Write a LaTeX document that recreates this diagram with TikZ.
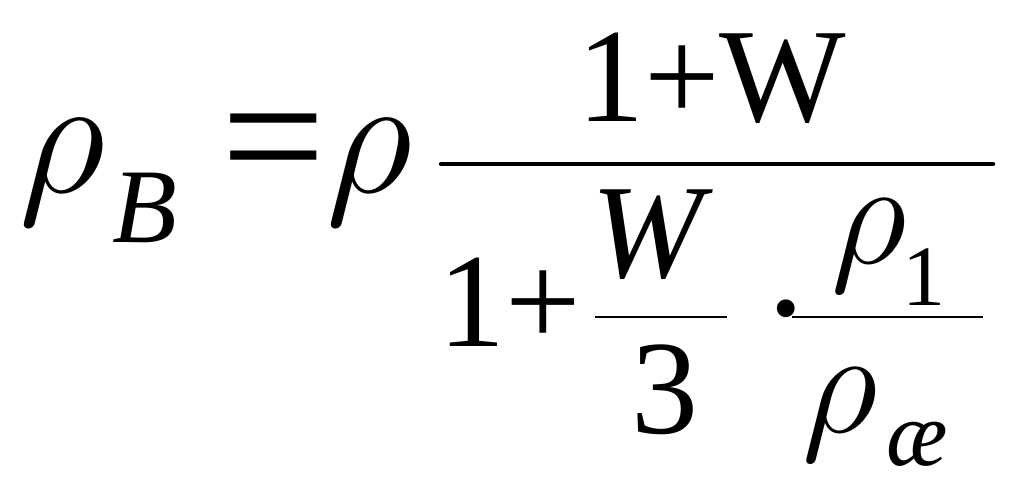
\RequirePackage{fix-cm}
\documentclass[tikz,border=0pt]{standalone}
\usepackage{fontspec}
\setmainfont{Liberation Serif}
\begin{document}
\begin{tikzpicture}[x=1pt,y=-1pt,
  glyph/.style={anchor=base west,inner sep=0pt,outer sep=0pt},
  big/.style={glyph,font=\fontsize{170}{170}\selectfont},
  mid/.style={glyph,font=\fontsize{134}{134}\selectfont},
  midit/.style={glyph,font=\fontsize{134}{134}\selectfont\itshape},
  midrho/.style={glyph,font=\fontsize{149}{149}\selectfont},
  subB/.style={glyph,font=\fontsize{106}{106}\selectfont\itshape},
  subone/.style={glyph,font=\fontsize{86}{86}\selectfont},
  subae/.style={glyph,font=\fontsize{92}{92}\selectfont\itshape},
  bar/.style={line width=4.5pt,line cap=round},
  thinbar/.style={line width=2pt}]
\useasboundingbox (0,0) rectangle (1019,491);

% left side
\node[big] (rhoB) at (19,192) {$\rho$};
\node[subB] (B) at (112,242) {B};
\node[glyph,font=\fontsize{185}{185}\selectfont] (eq) at (221,198) {=};
\node[big] (rho) at (326,192) {$\rho$};

% main fraction
\coordinate (mainL) at (441,164);
\coordinate (mainR) at (993,164);
\draw[bar] (mainL) -- (mainR);
\node[mid] (num) at (577,121) {1+W};

% denominator
\node[mid] (one) at (438,346) {1+};
\node[midit] (W) at (591,277) {W};
\coordinate (wL) at (595,317);
\coordinate (wR) at (727,317);
\draw[thinbar] (wL) -- (wR);
\node[mid] (three) at (631,433) {3};
\node[glyph,font=\fontsize{150}{150}\selectfont] (dot) at (767,315) {.};

\node[midrho] (rhoone) at (831,263) {$\rho$};
\node[subone] (one1) at (902,305) {1};
\coordinate (rL) at (792,317);
\coordinate (rR) at (983,317);
\draw[thinbar] (rL) -- (rR);
\node[midrho] (rhoae) at (802,432) {$\rho$};
\node[subae] (ae) at (886,465) {æ};

\end{tikzpicture}
\end{document}
